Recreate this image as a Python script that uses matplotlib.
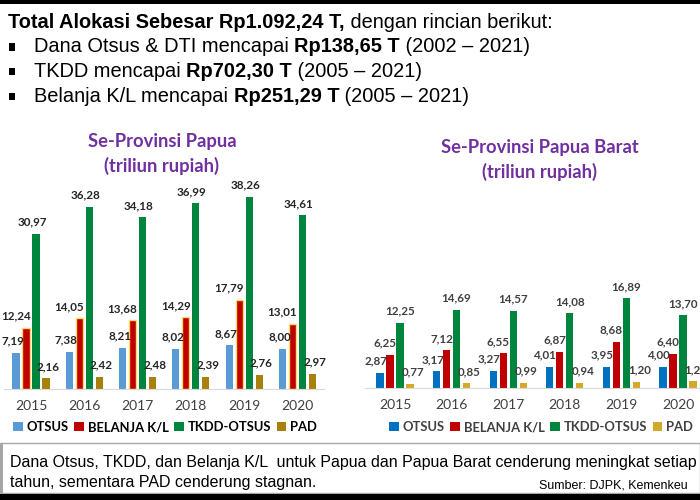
import matplotlib
matplotlib.use("Agg")
import matplotlib.pyplot as plt
import numpy as np
from matplotlib.patches import Rectangle, Patch

W, H = 700, 500

years = ["2015", "2016", "2017", "2018", "2019", "2020"]
series_names = ["OTSUS", "BELANJA K/L", "TKDD-OTSUS", "PAD"]

papua_otsus = [7.19, 7.38, 8.21, 8.02, 8.67, 8.00]
papua_belanja = [12.24, 14.05, 13.68, 14.29, 17.79, 13.01]
papua_tkdd = [30.97, 36.28, 34.18, 36.99, 38.26, 34.61]
papua_pad = [2.16, 2.42, 2.48, 2.39, 2.76, 2.97]

barat_otsus = [2.87, 3.17, 3.27, 4.01, 3.95, 4.00]
barat_belanja = [6.25, 7.12, 6.55, 6.87, 8.68, 6.40]
barat_tkdd = [12.25, 14.69, 14.57, 14.08, 16.89, 13.70]
barat_pad = [0.77, 0.85, 0.99, 0.94, 1.20, 1.28]

header_parts = [("Total Alokasi Sebesar Rp1.092,24 T,", "bold"), (" dengan rincian berikut:", "normal")]
bullet_lines = [
    [("Dana Otsus & DTI mencapai ", "normal"), ("Rp138,65 T", "bold"), (" (2002 \u2013 2021)", "normal")],
    [("TKDD mencapai ", "normal"), ("Rp702,30 T", "bold"), (" (2005 \u2013 2021)", "normal")],
    [("Belanja K/L mencapai ", "normal"), ("Rp251,29 T", "bold"), (" (2005 \u2013 2021)", "normal")],
]
note_line1 = "Dana Otsus, TKDD, dan Belanja K/L  untuk Papua dan Papua Barat cenderung meningkat setiap"
note_line2 = "tahun, sementara PAD cenderung stagnan."
source = "Sumber: DJPK, Kemenkeu"

HEAD_FONT = ["Liberation Sans", "DejaVu Sans"]
CHART_FONT = ["Lato", "DejaVu Sans"]
PURPLE = "#7030A0"

fig = plt.figure(figsize=(7, 5), dpi=100)
fig.patch.set_facecolor("white")
renderer = fig.canvas.get_renderer()


def fx(px):
    return px / W


def fy(py):
    return 1 - py / H


def rich_text(x, y, parts, size):
    # draw text pieces one after another on the same baseline
    for s, weight in parts:
        t = fig.text(fx(x), fy(y), s, fontsize=size, fontweight=weight,
                     family=HEAD_FONT, va="center", ha="left", color="black")
        x += t.get_window_extent(renderer).width


# top black strip
fig.patches.append(Rectangle((0, fy(3.5)), 1, 3.5 / H, transform=fig.transFigure,
                             facecolor="black", edgecolor="none"))

rich_text(8, 22, header_parts, 14.45)
for i, parts in enumerate(bullet_lines):
    yy = 47 + i * 24.5
    fig.patches.append(Rectangle((fx(9), fy(yy + 3.5)), 6 / W, 7 / H, transform=fig.transFigure,
                                 facecolor="black", edgecolor="none"))
    rich_text(34, yy, parts, 14.45)


def draw_chart(rect, data, colors, red_edge, spacing, width, xlim, ylim,
               label_dx, label_color, title, title_x, title_y, legend_x, legend_color):
    ax = fig.add_axes(rect)
    x = np.arange(len(years))
    offsets = np.array([-1.5, -0.5, 0.5, 1.5]) * spacing
    for k, (vals, col) in enumerate(zip(data, colors)):
        bars = ax.bar(x + offsets[k], vals, width,
                      color=col,
                      edgecolor="#FFD966" if (k == 1 and red_edge) else "none",
                      linewidth=1.0 if (k == 1 and red_edge) else 0)
        for b, v in zip(bars, vals):
            ax.annotate(f"{v:.2f}".replace(".", ","),
                        (b.get_x() + b.get_width() / 2, v),
                        xytext=(label_dx[k] * 0.72, 8.5), textcoords="offset points",
                        ha="center", va="center", fontsize=8.4, fontweight="bold",
                        color=label_color, family=CHART_FONT)
    ax.set_xlim(*xlim)
    ax.set_ylim(*ylim)
    for s in ["top", "right", "left"]:
        ax.spines[s].set_visible(False)
    ax.spines["bottom"].set_color("#D9D9D9")
    ax.set_yticks([])
    ax.set_xticks(x)
    ax.set_xticklabels(years, fontsize=10, color="#404040", family=CHART_FONT)
    ax.tick_params(axis="x", length=0, pad=8)
    ax.patch.set_alpha(0)

    fig.text(fx(title_x), fy(title_y), title, ha="center", va="center", fontsize=13.2,
             fontweight="bold", color=PURPLE, family=CHART_FONT, linespacing=1.4)

    handles = [Patch(facecolor=c, edgecolor="none") for c in colors]
    leg = fig.legend(handles, series_names, loc="center", ncol=4,
                     bbox_to_anchor=(fx(legend_x), fy(427)), frameon=False,
                     handlelength=0.75, handleheight=0.75, handletextpad=0.25,
                     columnspacing=0.45, borderaxespad=0, borderpad=0,
                     prop={"family": CHART_FONT, "weight": "bold", "size": 9.4})
    for t in leg.get_texts():
        t.set_color(legend_color)
    return ax


# Papua (left)
unit_l = 53.3
scale_l = 5.02
x0_l = 31 - 0.5 * unit_l
draw_chart([fx(x0_l), fy(389), 6 * unit_l / W, 230 / H],
           [papua_otsus, papua_belanja, papua_tkdd, papua_pad],
           ["#5B9BD5", "#C00000", "#00853F", "#A8800E"], True,
           10 / unit_l, 7.2 / unit_l, (-0.5, 5.5), (0, 230 / scale_l),
           [-3, -10, -4, 2], "#262626",
           "Se-Provinsi Papua\n(triliun rupiah)", 162, 154, 165, "black")

# Papua Barat (right)
unit_r = 56.6
scale_r = 5.3
x0_r = 395 - 0.53 * unit_r
draw_chart([fx(x0_r), fy(388), 6.03 * unit_r / W, 230 / H],
           [barat_otsus, barat_belanja, barat_tkdd, barat_pad],
           ["#0070C0", "#C00000", "#00853F", "#D4A82A"], False,
           10 / unit_r, 7.2 / unit_r, (-0.53, 5.5), (0, 230 / scale_r),
           [-4, -5, 0, 3], "#404040",
           "Se-Provinsi Papua Barat\n(triliun rupiah)", 540, 160, 541, "#404040")

# bottom note box
fig.patches.append(Rectangle((0, fy(493)), 1, 50 / H, transform=fig.transFigure,
                             facecolor="white", edgecolor="#A6A6A6", linewidth=1))
fig.patches.append(Rectangle((0, fy(493)), 3 / W, 50 / H, transform=fig.transFigure,
                             facecolor="#A6A6A6", edgecolor="none"))
fig.text(fx(10), fy(462), note_line1, fontsize=11.5, family=HEAD_FONT, va="center", ha="left")
fig.text(fx(10), fy(483), note_line2, fontsize=11.5, family=HEAD_FONT, va="center", ha="left")
fig.text(fx(539), fy(485), source, fontsize=9.0, family=HEAD_FONT, va="center", ha="left")
fig.patches.append(Rectangle((0, 0), 1, 6.5 / H, transform=fig.transFigure,
                             facecolor="black", edgecolor="none"))

fig.savefig("out.png", dpi=100)
